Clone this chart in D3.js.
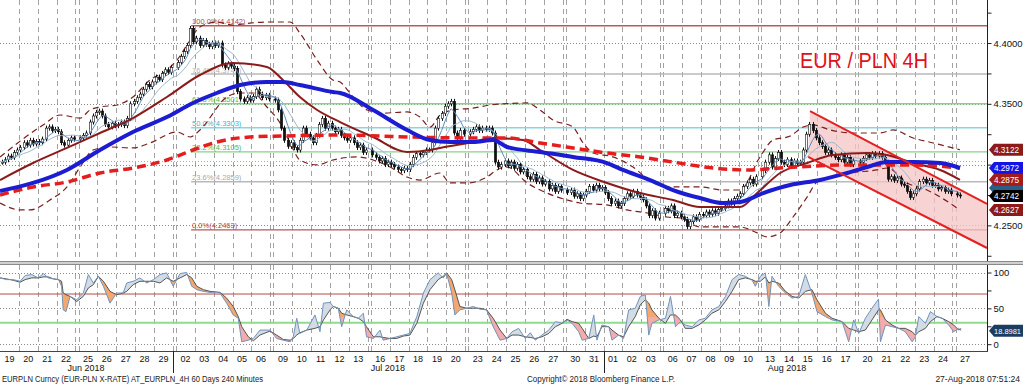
<!DOCTYPE html>
<html>
<head>
<meta charset="utf-8">
<script src="https://cdn.jsdelivr.net/npm/d3@7"></script>
<style>
body { margin: 0; background: #fff; }
svg { display: block; font-family: "Liberation Sans", Arial, sans-serif; }
</style>
</head>
<body>
<script>
// ---- data ----
var dayLabels = ["19","20","21","22","25","26","27","28","29","02","03","04","05","06","09","10","11","12","13",
                 "16","17","18","19","20","23","24","25","26","27","30","31","01","02","03","06","07","08","09","10",
                 "13","14","15","16","17","20","21","22","23","24","27"];
var weekendAfter = [3, 8, 13, 18, 23, 28, 33, 38, 43, 48]; // day index followed by a weekend
var monthLabels = ["Jun 2018", "Jul 2018", "Aug 2018"];
var monthLabelSlot = [27.4, 123.4, 250.4];
var monthStartDay = [9, 31];

// 4H closes, six bars a day
var closes = [
  4.302, 4.304, 4.307, 4.306, 4.310, 4.312,   // Jun 19
  4.314, 4.318, 4.316, 4.320, 4.317, 4.319,
  4.318, 4.321, 4.330, 4.331, 4.328, 4.329,
  4.327, 4.318, 4.316, 4.320, 4.322, 4.321,
  4.322, 4.324, 4.326, 4.335, 4.340, 4.343,   // Jun 25
  4.344, 4.340, 4.333, 4.331, 4.334, 4.332,
  4.333, 4.335, 4.332, 4.338, 4.350, 4.352,
  4.355, 4.358, 4.362, 4.366, 4.364, 4.368,
  4.372, 4.370, 4.375, 4.378, 4.376, 4.380,
  4.384, 4.389, 4.393, 4.398, 4.412, 4.401,   // Jul 2
  4.404, 4.398, 4.402, 4.399, 4.397, 4.400,
  4.398, 4.400, 4.382, 4.380, 4.383, 4.381,
  4.379, 4.360, 4.354, 4.352, 4.355, 4.353,
  4.356, 4.362, 4.358, 4.355, 4.357, 4.354,
  4.353, 4.345, 4.330, 4.320, 4.315, 4.318,   // Jul 9
  4.314, 4.312, 4.320, 4.330, 4.325, 4.322,
  4.318, 4.324, 4.333, 4.338, 4.330, 4.334,
  4.330, 4.327, 4.329, 4.324, 4.322, 4.320,
  4.322, 4.318, 4.314, 4.316, 4.310, 4.312,
  4.308, 4.306, 4.303, 4.305, 4.300, 4.302,   // Jul 16
  4.300, 4.298, 4.296, 4.295, 4.297, 4.296,
  4.300, 4.306, 4.309, 4.308, 4.310, 4.312,
  4.312, 4.318, 4.330, 4.338, 4.342, 4.348,
  4.350, 4.352, 4.326, 4.322, 4.328, 4.325,
  4.327, 4.329, 4.331, 4.328, 4.330, 4.329,   // Jul 23
  4.330, 4.326, 4.302, 4.298, 4.300, 4.303,
  4.299, 4.302, 4.297, 4.300, 4.294, 4.296,
  4.290, 4.288, 4.292, 4.286, 4.289, 4.284,
  4.286, 4.280, 4.283, 4.278, 4.282, 4.279,
  4.277, 4.279, 4.274, 4.276, 4.272, 4.275,   // Jul 30
  4.278, 4.282, 4.279, 4.283, 4.280, 4.281,
  4.277, 4.272, 4.268, 4.270, 4.266, 4.268,
  4.272, 4.276, 4.274, 4.278, 4.275, 4.273,
  4.271, 4.266, 4.258, 4.262, 4.256, 4.260,
  4.264, 4.262, 4.266, 4.258, 4.260, 4.257,   // Aug 6
  4.255, 4.249, 4.253, 4.257, 4.255, 4.259,
  4.258, 4.261, 4.259, 4.262, 4.260, 4.263,
  4.264, 4.266, 4.270, 4.268, 4.272, 4.274,
  4.276, 4.282, 4.285, 4.288, 4.284, 4.290,
  4.295, 4.302, 4.308, 4.298, 4.305, 4.310,   // Aug 13
  4.302, 4.300, 4.304, 4.299, 4.303, 4.301,
  4.302, 4.312, 4.325, 4.333, 4.328, 4.322,
  4.318, 4.315, 4.310, 4.312, 4.308, 4.306,
  4.304, 4.308, 4.302, 4.306, 4.300, 4.303,
  4.302, 4.305, 4.308, 4.306, 4.309, 4.307,   // Aug 20
  4.309, 4.306, 4.302, 4.288, 4.290, 4.287,
  4.289, 4.284, 4.283, 4.278, 4.273, 4.276,
  4.280, 4.286, 4.288, 4.285, 4.287, 4.283,
  4.283, 4.280, 4.281, 4.278, 4.279, 4.276,
  4.275, 4.2742                               // Aug 27
];

// indicator lines as [slot, value]
var bbUpper = [[0,4.3063],[13.7,4.3326],[19.1,4.3408],[25.5,4.3383],[28.6,4.3449],[31.8,4.3474],[37.2,4.3490],
  [42.3,4.3556],[47.7,4.3696],[53.1,4.3778],[56.3,4.3860],[60.5,4.4025],[63.6,4.4132],[69,4.4173],[74.1,4.4148],
  [79.5,4.4164],[84.9,4.4173],[92.3,4.4173],[95.4,4.4082],[100.9,4.3860],[105.9,4.3696],[108.2,4.3679],
  [112.3,4.3556],[116.8,4.3449],[121.9,4.3424],[129.5,4.3433],[133.6,4.3391],[136.8,4.3309],[140,4.3408],
  [144.1,4.3449],[150.5,4.3465],[155.9,4.3490],[167.7,4.3507],[171.8,4.3449],[175.9,4.3367],[182.3,4.3309],
  [185.5,4.3178],[188.7,4.3095],[195,4.3063],[201.4,4.2980],[207.8,4.2849],[214.1,4.2816],[222.7,4.2816],
  [230,4.2791],[235.4,4.2791],[241.8,4.3063],[245.9,4.3202],[251.4,4.3235],[255.5,4.3309],[258.7,4.3326],
  [264.1,4.3285],[271.4,4.3260],[280,4.3260],[284.1,4.3285],[290.5,4.3219],[296.9,4.3178],[305.4,4.3122]];
var bbLower = [[0,4.2684],[6.4,4.2627],[9.5,4.2627],[15.9,4.2709],[21.3,4.2816],[25.5,4.2980],[29.6,4.3120],
  [35,4.3145],[42.3,4.3137],[47.7,4.3178],[56.3,4.3268],[60.5,4.3227],[63.6,4.3285],[72.2,4.3556],[76.4,4.3589],
  [80.5,4.3589],[84.9,4.3474],[89.1,4.3342],[92.3,4.3178],[95.4,4.3038],[100.9,4.2997],[105.9,4.3038],
  [113.6,4.3063],[118.7,4.3038],[124.1,4.2980],[129.5,4.2898],[133.6,4.2873],[140,4.2931],[143.2,4.2849],
  [148.6,4.2849],[154.9,4.2898],[158.1,4.2956],[161.3,4.2980],[167.7,4.2849],[174,4.2766],[180.4,4.2709],
  [184.5,4.2684],[193.1,4.2668],[199.5,4.2627],[205.9,4.2602],[212.2,4.2569],[216.4,4.2561],[222.7,4.2487],
  [235.4,4.2487],[240.9,4.2438],[244,4.2405],[248.2,4.2438],[252.3,4.2569],[256.8,4.2734],[259.9,4.2857],
  [264.1,4.2898],[270.4,4.2931],[279,4.2956],[282.2,4.2972],[288.6,4.2849],[294.9,4.2791],[305.4,4.2627]];
var bbMiddle = [[0,4.2873],[10.5,4.3013],[21.3,4.3137],[31.8,4.3260],[42.3,4.3383],[53.1,4.3556],[63.6,4.3737],
  [74.1,4.3836],[84.9,4.3803],[90,4.3696],[95.4,4.3556],[100.9,4.3449],[108.2,4.3350],[118.7,4.3227],
  [129.5,4.3104],[136.8,4.3120],[140,4.3137],[150.5,4.3186],[156.9,4.3219],[166.4,4.3202],[171.8,4.3120],
  [182.3,4.2956],[193.1,4.2849],[203.6,4.2766],[214.1,4.2709],[222.7,4.2651],[235.4,4.2651],[240.9,4.2766],
  [248.2,4.2931],[256.8,4.3013],[265,4.3079],[275.9,4.3095],[282.2,4.3079],[290.5,4.3013],[299.1,4.2956],
  [305.4,4.2875]];
var maBlue = [[0,4.2783],[10.5,4.2849],[21.3,4.2956],[31.8,4.3120],[42.3,4.3268],[53.1,4.3391],[61.4,4.3507],
  [69,4.3589],[76.4,4.3655],[84.9,4.3679],[90,4.3679],[95.4,4.3655],[105.9,4.3597],[108.2,4.3589],
  [118.7,4.3449],[129.5,4.3285],[136.8,4.3202],[143.2,4.3186],[150.5,4.3186],[156.9,4.3202],[161.3,4.3145],
  [171.8,4.3104],[182.3,4.3063],[193.1,4.3013],[198.2,4.2956],[206.8,4.2873],[214.1,4.2791],[222.7,4.2725],
  [230,4.2684],[235.4,4.2692],[242.8,4.2766],[251.4,4.2832],[260.9,4.2873],[269.5,4.2931],[275.9,4.2980],
  [282.2,4.3021],[290.5,4.3021],[299.1,4.3013],[305.4,4.2972]];
var maRedDash = [[0,4.2750],[10.5,4.2816],[21.3,4.2857],[31.8,4.2931],[42.3,4.2972],[53.1,4.3038],[61.4,4.3120],
  [69,4.3186],[79.5,4.3227],[90,4.3235],[108.2,4.3243],[129.5,4.3227],[150.5,4.3219],[161.3,4.3219],
  [171.8,4.3178],[182.3,4.3137],[193.1,4.3095],[203.6,4.3063],[214.1,4.3021],[226.9,4.2972],[237.7,4.2956],
  [248.2,4.2972],[269.5,4.2997],[290.5,4.2997],[305.4,4.2972]];

// fibonacci retracement
var fibPct = [100, 76.4, 61.8, 50, 38.2, 23.6, 0];
var fibVal = [4.4142, 4.3745, 4.3501, 4.3303, 4.3105, 4.2859, 4.2463];
var fibColor = ["#b55a5a", "#b9b9b9", "#86d386", "#86d6e2", "#86d386", "#b9b9b9", "#b55a5a"];
var fibTextColor = ["#b04848", "#b0b0b0", "#4fb84f", "#3fb5c8", "#4fb84f", "#a8a8a8", "#b04848"];
var fibStartSlot = 60.8;
var refLevel = 4.3033;

// descending channel
var chanUpper = [[257.7, 4.3440], [314, 4.2676]];
var chanLower = [[257.1, 4.3063], [314, 4.2314]];

var priceTicks = [4.25, 4.35, 4.40];   // 4.30 label sits under the blue tag
var tags = [
  {v: 4.3122, c: "#8b1a1a"}, {v: 4.2972, c: "#1414e6"}, {v: 4.2807, c: "#2b5d86", hidden: true},
  {v: 4.2875, c: "#a21c1c"}, {v: 4.2742, c: "#000000"}, {v: 4.2627, c: "#8b1a1a"}
];

// stochastics [slot, %K, %D]
var stoch = [[0,92.5,92.5],[2.1,90.1,91.1],[4.2,90.1,89.2],[6.4,87.8,86.4],[8,95.8,90.1],[10.1,97.2,92.5],
  [12.2,92.5,92.5],[13.8,98.6,93.9],[15.4,92.5,93.9],[17,91.1,91.1],[18.6,90.1,90.1],[19.6,80.8,87.8],
  [20.1,47.9,71.4],[21,45.5,69],[22.3,66.7,66.7],[24.4,62,59.6],[26.5,71.4,66.7],[28.1,97.2,78.4],
  [29.7,85.4,83.1],[31.3,94.8,94.8],[32.9,80.8,87.8],[35,57.3,73.7],[37.1,71.4,69],[39.2,71.4,71.4],
  [40.3,85.4,73.7],[42.4,87.8,83.1],[44.5,92.5,87.8],[46.7,85.4,87.8],[48.8,90.1,87.8],[50.9,97.2,85.4],
  [53,99.5,92.5],[55.1,80.8,87.8],[57.3,98.6,92.5],[59.4,100,97.2],[61,80.8,92.5],[62.6,76.1,80.8],
  [64.7,73.7,76.1],[66.8,72.3,73.7],[68.9,72.8,72.8],[70,71.4,72.3],[72.1,57.3,64.3],[74.2,40.8,52.6],
  [75.8,36.2,38.5],[76.9,3.3,24.4],[79,5.6,10.3],[80.6,8,4.7],[82.7,19.7,12.7],[85.9,19.7,18.3],
  [88,8,12.7],[90.1,5.6,6.6],[92.3,3.3,5.6],[93.3,10.3,8],[94.4,36.2,12.7],[95.4,15,16],[97.6,19.7,19.7],
  [100.2,40.8,22.1],[101.8,17.4,24.4],[102.9,57.3,33.8],[105,58.2,47.9],[106,52.6,52.6],[107.6,50.2,50.2],
  [108.7,24.4,43.2],[110.3,47.9,40.8],[112.4,38.5,38.5],[114,36.2,36.2],[115.6,43.2,31.5],[116.6,10.3,24.4],
  [118.8,8,10.3],[120.9,19.7,10.3],[121.9,5.6,9.4],[124.1,8,8],[126.2,10.3,8],[128.3,12.7,11.3],
  [130.4,15,12.7],[132.6,38.5,29.1],[134.7,71.4,57.3],[136.8,90.1,76.1],[139.4,99.5,90.1],[141,92.5,94.8],
  [142.1,98.6,99.5],[143.7,71.4,90.1],[144.7,40.8,76.1],[146.3,47.9,52.6],[148.5,50.2,50.2],[150.6,52.6,50.2],
  [152.7,48.8,50.2],[154.8,47.9,47.9],[156.9,24.4,36.2],[159.1,5.6,19.7],[161.2,8,8],[162.9,17.4,12.7],
  [165,22.1,12.7],[167.1,8,10.3],[168.7,16,9.4],[170.3,5.6,8],[172.4,12.7,10.3],[174.6,19.7,15],
  [176.7,31.5,24.4],[178.8,29.1,29.1],[180.4,33.8,34.7],[182,29.1,31.5],[184.1,17.4,29.1],[185.2,5.6,22.1],
  [187.3,8,8],[188.9,40.8,11.3],[189.9,5.6,10.3],[191.5,26.8,24.4],[193.7,24.4,24.4],[194.7,5.6,19.7],
  [196.8,12.7,12.7],[198.4,8,10.3],[200,47.9,24.4],[202.1,50.2,38.5],[203.7,66.7,54.9],[205.3,69,62],
  [206.4,12.7,57.3],[207.4,29.1,47.9],[209.6,33.8,36.2],[211.7,36.2,29.1],[213.3,66.7,40.8],[214.9,24.4,40.8],
  [216.5,31.5,33.8],[218,26.8,22.1],[220.2,24.4,22.1],[222.3,33.8,26.8],[224.4,36.2,33.8],[226.5,47.9,43.2],
  [228.7,52.6,47.9],[230.8,66.7,59.6],[232.9,90.1,73.7],[235,97.2,90.1],[237.1,94.8,92.5],[239.3,89.2,90.1],
  [240.3,80.8,87.8],[241.9,94.8,87.8],[243.5,99.5,93.9],[244.6,52.6,85.4],[245.6,94.8,87.8],[247.7,80.8,85.4],
  [249.9,71.4,73.7],[252,64.3,66.7],[254.1,66.7,64.3],[256.2,97.2,73.7],[258.3,71.4,76.1],[259.9,45.5,62],
  [262.6,38.5,43.2],[264.7,33.8,36.2],[267.9,31.5,31.5],[270,3.3,22.1],[271.6,33.8,19.7],[273.2,15,17.4],
  [275.3,36.2,19.7],[277.4,50.2,33.8],[279.5,62.9,47.9],[280.1,3.3,47.9],[281.7,26.8,33.8],[283.8,24.4,26.8],
  [285.9,22.1,22.1],[288,17.4,22.1],[290.2,3.3,17.4],[291.2,10.3,12.7],[292.3,38.5,17.4],[294.4,29.1,22.1],
  [296,45.5,31.5],[298.1,38.5,38.5],[299.7,36.2,36.2],[301.8,26.8,31.5],[303.4,17.4,26.8],[305,22.1,19.7],
  [305.8,18.9,21.8]];
var stochLast = 18.8981;

// ---- layout ----
var W = 1023, H = 384;
var axisX = 987;
var mainTop = 0, mainBottom = 261, subTop = 265, subBottom = 351;

var x = d3.scaleLinear().domain([0, 314]).range([0, axisX]);
var y = d3.scaleLinear().domain([4.2207, 4.4354]).range([mainBottom, mainTop]);
var ys = d3.scaleLinear().domain([-9.5, 110.5]).range([subBottom, subTop]);

function daySlot(d) { return 6 * d + weekendAfter.filter(function(w) { return w < d; }).length; }
function barSlot(i) { return daySlot(Math.floor(i / 6)) + (i % 6) + 0.5; }
function sma(arr, n) {
  return arr.map(function(v, i) { return d3.mean(arr.slice(Math.max(0, i - n + 1), i + 1)); });
}

var svg = d3.select("body").append("svg").attr("width", W).attr("height", H);
svg.append("rect").attr("width", W).attr("height", H).attr("fill", "#fff");
var defs = svg.append("defs");
defs.append("clipPath").attr("id", "clipMain").append("rect")
    .attr("x", 0).attr("y", mainTop).attr("width", axisX).attr("height", mainBottom - mainTop);
defs.append("clipPath").attr("id", "clipSub").append("rect")
    .attr("x", 0).attr("y", subTop).attr("width", axisX).attr("height", subBottom - subTop);

// vertical day grid (both panels)
var vSlots = [];
for (var d = 1; d < dayLabels.length; d++) vSlots.push(daySlot(d));
weekendAfter.forEach(function(d) { vSlots.push(daySlot(d) + 6); });
[[mainTop, mainBottom], [subTop, subBottom]].forEach(function(r) {
  svg.append("g").selectAll("line").data(vSlots).enter().append("line")
      .attr("x1", function(s) { return Math.round(x(s)) + 0.5; })
      .attr("x2", function(s) { return Math.round(x(s)) + 0.5; })
      .attr("y1", r[0]).attr("y2", r[1])
      .attr("stroke", "#a2a2a2").attr("stroke-width", 1).attr("stroke-dasharray", "5,4");
});

// ---------- main panel ----------
var main = svg.append("g").attr("clip-path", "url(#clipMain)");

main.selectAll(".hgrid").data([4.25, 4.30, 4.35, 4.40]).enter().append("line")
    .attr("x1", 0).attr("x2", axisX)
    .attr("y1", function(v) { return Math.round(y(v)) + 0.5; })
    .attr("y2", function(v) { return Math.round(y(v)) + 0.5; })
    .attr("stroke", "#888").attr("stroke-dasharray", "1,2");

main.append("line").attr("x1", 0).attr("x2", axisX)
    .attr("y1", Math.round(y(refLevel)) + 0.5).attr("y2", Math.round(y(refLevel)) + 0.5)
    .attr("stroke", "#f0a030").attr("stroke-dasharray", "1,2");

// fib lines + labels
fibVal.forEach(function(v, i) {
  main.append("line")
      .attr("x1", x(fibStartSlot)).attr("x2", axisX)
      .attr("y1", y(v)).attr("y2", y(v))
      .attr("stroke", fibColor[i]).attr("stroke-width", 1.4);
  main.append("text")
      .attr("x", x(fibStartSlot) + 1).attr("y", y(v) - 1.5)
      .attr("font-size", 7.5).attr("fill", fibTextColor[i])
      .text(d3.format(".1f")(fibPct[i]) + "%(" + d3.format(".4f")(v) + ")");
});

// channel fill
var chanPoly = chanUpper.concat(chanLower.slice().reverse());
main.append("path")
    .attr("d", "M" + chanPoly.map(function(p) { return x(p[0]) + "," + y(p[1]); }).join("L") + "Z")
    .attr("fill", "#f6c4c4").attr("fill-opacity", 0.75);

var lineXY = d3.line().x(function(p) { return x(p[0]); }).y(function(p) { return y(p[1]); })
    .curve(d3.curveMonotoneX);

// bollinger bands
[bbUpper, bbLower].forEach(function(b) {
  main.append("path").attr("d", lineXY(b)).attr("fill", "none")
      .attr("stroke", "#7a1e1e").attr("stroke-width", 1.2).attr("stroke-dasharray", "6,4");
});

// candles
var candles = closes.map(function(c, i) {
  return {s: barSlot(i), o: i > 0 ? closes[i - 1] : c, c: c};
});
var cg = main.append("g");
cg.selectAll(".wick").data(candles).enter().append("line")
    .attr("x1", function(d) { return Math.round(x(d.s)) + 0.5; })
    .attr("x2", function(d) { return Math.round(x(d.s)) + 0.5; })
    .attr("y1", function(d) { return y(Math.max(d.o, d.c)) - 2.5; })
    .attr("y2", function(d) { return y(Math.min(d.o, d.c)) + 2.5; })
    .attr("stroke", "#111").attr("stroke-width", 1);
cg.selectAll(".body").data(candles).enter().append("rect")
    .attr("x", function(d) { return Math.round(x(d.s)) - 0.7; })
    .attr("width", 2.4)
    .attr("y", function(d) { return y(Math.max(d.o, d.c)); })
    .attr("height", function(d) { return Math.max(1, Math.abs(y(d.o) - y(d.c))); })
    .attr("fill", function(d) { return d.c >= d.o ? "#fff" : "#111"; })
    .attr("stroke", "#111").attr("stroke-width", 0.6);

// thin moving averages from the closes
var lineBar = d3.line().x(function(v, i) { return x(barSlot(i)); }).y(function(v) { return y(v); });
main.append("path").attr("d", lineBar(sma(closes, 10))).attr("fill", "none")
    .attr("stroke", "#9fb9cc").attr("stroke-width", 1);
main.append("path").attr("d", lineBar(sma(closes, 5))).attr("fill", "none")
    .attr("stroke", "#5d8dbd").attr("stroke-width", 1);

// bollinger middle, long averages
main.append("path").attr("d", lineXY(bbMiddle)).attr("fill", "none")
    .attr("stroke", "#8b1a1a").attr("stroke-width", 2);
main.append("path").attr("d", lineXY(maRedDash)).attr("fill", "none")
    .attr("stroke", "#e41e1e").attr("stroke-width", 3.5).attr("stroke-dasharray", "9,5");
main.append("path").attr("d", lineXY(maBlue)).attr("fill", "none")
    .attr("stroke", "#1c1cd2").attr("stroke-width", 4);

// channel lines
[chanUpper, chanLower].forEach(function(c) {
  main.append("path").attr("d", d3.line().x(function(p) { return x(p[0]); }).y(function(p) { return y(p[1]); })(c))
      .attr("stroke", "#e42020").attr("stroke-width", 2).attr("fill", "none");
});

// title
svg.append("text").attr("x", 800).attr("y", 68)
    .attr("font-size", 22).attr("fill", "#e2101c")
    .attr("textLength", 128).attr("lengthAdjust", "spacingAndGlyphs")
    .text("EUR / PLN 4H");

// ---------- sub panel (stochastics) ----------
var sub = svg.append("g").attr("clip-path", "url(#clipSub)");
[0, 50, 100].forEach(function(v) {
  sub.append("line").attr("x1", 0).attr("x2", axisX)
      .attr("y1", Math.round(ys(v)) + 0.5).attr("y2", Math.round(ys(v)) + 0.5)
      .attr("stroke", "#888").attr("stroke-dasharray", "1,2");
});
sub.append("line").attr("x1", 0).attr("x2", axisX).attr("y1", ys(70)).attr("y2", ys(70))
    .attr("stroke", "#b84a4a").attr("stroke-width", 1);
sub.append("line").attr("x1", 0).attr("x2", axisX).attr("y1", ys(30)).attr("y2", ys(30))
    .attr("stroke", "#8fdc8f").attr("stroke-width", 2);

var grad = defs.append("linearGradient").attr("id", "fallGrad")
    .attr("gradientUnits", "userSpaceOnUse").attr("x1", 0).attr("x2", 0)
    .attr("y1", subTop).attr("y2", subBottom);
var gOff = (ys(38) - subTop) / (subBottom - subTop);
grad.append("stop").attr("offset", 0).attr("stop-color", "#f2a870");
grad.append("stop").attr("offset", gOff).attr("stop-color", "#f2a870");
grad.append("stop").attr("offset", gOff).attr("stop-color", "#f3abab");
grad.append("stop").attr("offset", 1).attr("stop-color", "#f3abab");

var sx = function(d) { return x(d[0]); };
defs.append("clipPath").attr("id", "belowK").append("path")
    .attr("d", d3.area().x(sx).y0(subBottom).y1(function(d) { return ys(d[1]); })(stoch));
defs.append("clipPath").attr("id", "belowD").append("path")
    .attr("d", d3.area().x(sx).y0(subBottom).y1(function(d) { return ys(d[2]); })(stoch));
sub.append("g").attr("clip-path", "url(#belowK)").append("path")
    .attr("d", d3.area().x(sx).y0(subTop).y1(function(d) { return ys(d[2]); })(stoch))
    .attr("fill", "#d3dbe5");
sub.append("g").attr("clip-path", "url(#belowD)").append("path")
    .attr("d", d3.area().x(sx).y0(subTop).y1(function(d) { return ys(d[1]); })(stoch))
    .attr("fill", "url(#fallGrad)");
sub.append("path").attr("d", d3.line().x(sx).y(function(d) { return ys(d[2]); })(stoch))
    .attr("fill", "none").attr("stroke", "#444").attr("stroke-width", 0.9);
sub.append("path").attr("d", d3.line().x(sx).y(function(d) { return ys(d[1]); })(stoch))
    .attr("fill", "none").attr("stroke", "#7193bb").attr("stroke-width", 1);

// ---------- frames & axes ----------
svg.append("rect").attr("x", 0).attr("y", mainBottom).attr("width", W).attr("height", subTop - mainBottom)
    .attr("fill", "#d0d0d0");
svg.append("line").attr("x1", 0).attr("x2", W).attr("y1", mainBottom + 0.5).attr("y2", mainBottom + 0.5)
    .attr("stroke", "#8a8a8a");
svg.append("line").attr("x1", 0).attr("x2", W).attr("y1", subTop - 0.5).attr("y2", subTop - 0.5)
    .attr("stroke", "#8a8a8a");
svg.append("line").attr("x1", axisX + 0.5).attr("x2", axisX + 0.5).attr("y1", 0).attr("y2", mainBottom)
    .attr("stroke", "#222");
svg.append("line").attr("x1", axisX + 0.5).attr("x2", axisX + 0.5).attr("y1", subTop).attr("y2", subBottom)
    .attr("stroke", "#222");
svg.append("line").attr("x1", 0).attr("x2", axisX + 1).attr("y1", subBottom + 0.5).attr("y2", subBottom + 0.5)
    .attr("stroke", "#444");

// price axis
var yAxis = d3.axisRight(y).tickValues(d3.range(4.225, 4.4351, 0.025))
    .tickSize(4).tickPadding(2)
    .tickFormat(function(v) { return priceTicks.some(function(p) { return Math.abs(p - v) < 1e-6; }) ? d3.format(".4f")(v) : ""; });
var ya = svg.append("g").attr("transform", "translate(" + (axisX + 0.5) + ",0)").call(yAxis);
ya.select(".domain").remove();
ya.selectAll("text").attr("font-size", 9.5).attr("fill", "#111").attr("font-family", "Liberation Sans, Arial, sans-serif");
ya.selectAll("line").attr("stroke", "#222");

var sAxis = d3.axisRight(ys).tickValues([0, 25, 50, 75, 100]).tickSize(4).tickPadding(2)
    .tickFormat(function(v) { return v % 50 === 0 ? v : ""; });
var sa = svg.append("g").attr("transform", "translate(" + (axisX + 0.5) + ",0)").call(sAxis);
sa.select(".domain").remove();
sa.selectAll("text").attr("font-size", 9.5).attr("fill", "#111").attr("font-family", "Liberation Sans, Arial, sans-serif");
sa.selectAll("line").attr("stroke", "#222");

// value tags
function tag(yy, color, label, hidden, fs, tl) {
  var g = svg.append("g");
  g.append("path")
      .attr("d", "M" + (axisX + 2) + "," + yy + "L" + (axisX + 7) + "," + (yy - 6) + "H" + W +
                 "V" + (yy + 6) + "H" + (axisX + 7) + "Z")
      .attr("fill", color);
  if (!hidden) {
    g.append("text").attr("x", axisX + 7).attr("y", yy + 3.2)
        .attr("font-size", fs || 9).attr("fill", "#fff")
        .attr("textLength", tl || 25).attr("lengthAdjust", "spacingAndGlyphs")
        .text(label);
  }
}
tags.forEach(function(t) { tag(y(t.v), t.c, d3.format(".4f")(t.v), t.hidden); });
tag(ys(stochLast), "#1c3d62", d3.format(".4f")(stochLast), false, 8, 27);

// date axis
svg.append("g").selectAll("text").data(dayLabels).enter().append("text")
    .attr("x", function(l, i) { return x(daySlot(i) + 3); })
    .attr("y", 362).attr("text-anchor", "middle")
    .attr("font-size", 9).attr("fill", "#111")
    .text(function(l) { return l; });
svg.append("g").selectAll("text").data(monthLabels).enter().append("text")
    .attr("x", function(l, i) { return x(monthLabelSlot[i]); })
    .attr("y", 371).attr("text-anchor", "middle")
    .attr("font-size", 9).attr("fill", "#111")
    .text(function(l) { return l; });
svg.append("g").selectAll("line").data(monthStartDay).enter().append("line")
    .attr("x1", function(d) { return Math.round(x(daySlot(d - 1) + 6)) + 0.5; })
    .attr("x2", function(d) { return Math.round(x(daySlot(d - 1) + 6)) + 0.5; })
    .attr("y1", subBottom).attr("y2", 373)
    .attr("stroke", "#222");

// footer
svg.append("text").attr("x", 2).attr("y", 381.5).attr("font-size", 8.5).attr("fill", "#222")
    .attr("textLength", 261).attr("lengthAdjust", "spacingAndGlyphs")
    .text("EURPLN Curncy (EUR-PLN X-RATE) AT_EURPLN_4H 60 Days 240 Minutes");
svg.append("text").attr("x", 527).attr("y", 381.5).attr("font-size", 8.5).attr("fill", "#222")
    .attr("textLength", 148).attr("lengthAdjust", "spacingAndGlyphs")
    .text("Copyright\u00a9 2018 Bloomberg Finance L.P.");
svg.append("text").attr("x", 1020).attr("y", 381.5).attr("font-size", 8.5).attr("fill", "#222")
    .attr("text-anchor", "end")
    .text("27-Aug-2018 07:51:24");
</script>
</body>
</html>
